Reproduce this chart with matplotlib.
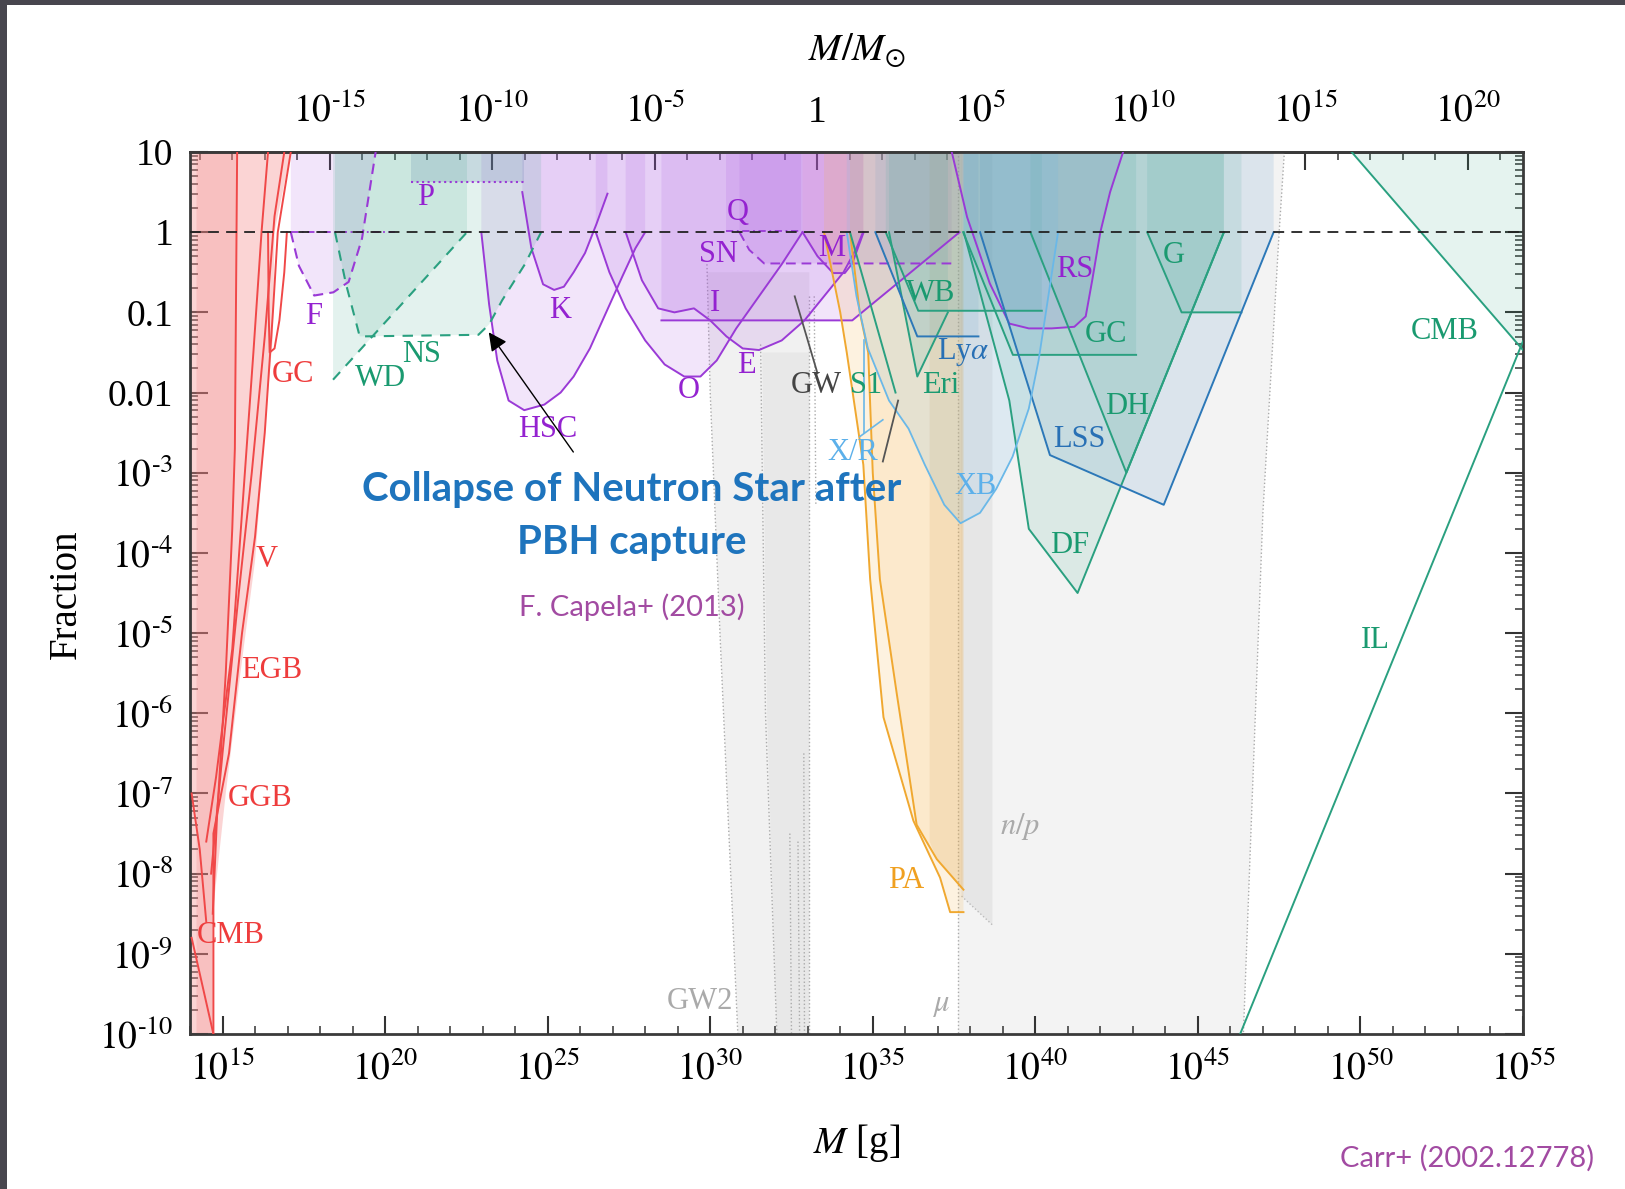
import numpy as np
import matplotlib.pyplot as plt
from matplotlib.patches import Rectangle
from matplotlib.ticker import FixedLocator, FixedFormatter, NullFormatter

plt.rcParams['font.family'] = ['Liberation Serif', 'DejaVu Serif']
plt.rcParams['mathtext.fontset'] = 'stix'

MSUN = 1.989e33

# all values are log10(M / g) and log10(fraction)
# --- evaporation (red) ---
evap_m = [14.0, 14.7, 14.7, 15.1, 15.55, 16.0, 16.4, 16.55, 16.6, 17.1]
evap_f = [-10, -10, -8.5, -7.0, -5.5, -4.1, -2.0, -1.3, 0.0, 1.0]
evap_band_m = [14.2, 15.45, 15.38, 15.3, 15.1, 14.83, 14.7, 14.7, 14.2]
evap_band_f = [1.0, 1.0, -2.7, -3.7, -5.5, -7.3, -8.5, -10, -10]
red_lines = {
    'V': ([14.72, 14.72, 15.2, 15.6, 16.0, 16.3, 16.55, 16.7, 17.1],
          [-10, -7.5, -6.5, -5.0, -3.8, -2.5, -1.0, 0.0, 1.0]),
    'EGB': ([14.65, 15.0, 15.5, 15.9, 16.3, 16.6, 16.9],
            [-8.0, -6.5, -4.5, -3.0, -1.3, 0.2, 1.0]),
    'GGB': ([14.5, 14.8, 15.3, 15.6, 15.95, 16.2, 16.4],
            [-7.6, -6.8, -5.2, -3.5, -1.5, 0.0, 1.0]),
    'CMB': ([14.05, 14.72], [-8.8, -10]),
    'CMB2': ([14.05, 14.3, 14.5], [-7.0, -7.7, -8.6]),
    'X': ([15.45, 15.38, 15.3, 15.1, 14.83, 14.7], [1.0, -2.7, -3.7, -5.5, -7.3, -8.5]),
    'GC': ([16.4, 16.42, 16.45, 16.6, 16.75, 16.9, 16.98], [0, -1.0, -1.5, -1.45, -1.1, -0.5, 0]),
}
red_labels = {'GC': (17.18, -1.78), 'V': (16.36, -4.08), 'EGB': (16.52, -5.47),
              'GGB': (16.17, -7.06), 'CMB': (15.24, -8.77)}

# --- lensing (purple) ---
F_m = [17.1, 17.35, 17.82, 18.41, 18.88, 19.29, 19.71]
F_f = [0.0, -0.42, -0.79, -0.75, -0.62, -0.08, 1.0]
P_m = [20.8, 24.28]
P_f = [0.63, 0.63]
HSC_m = [22.96, 23.2, 23.45, 23.8, 24.28, 24.9, 25.4, 25.8, 26.3, 26.8, 27.3, 27.7, 28.0]
HSC_f = [0.0, -0.9, -1.6, -2.1, -2.22, -2.15, -2.0, -1.8, -1.45, -1.0, -0.55, -0.2, 0.0]
K_m = [24.22, 24.5, 24.86, 25.2, 25.5, 25.8, 26.15, 26.5, 26.84]
K_f = [0.5, -0.2, -0.65, -0.72, -0.68, -0.5, -0.26, 0.1, 0.48]
O_m = [26.48, 26.9, 27.4, 28.0, 28.6, 29.2, 29.7, 30.2, 30.8, 31.5, 32.2, 32.84]
O_f = [0.0, -0.5, -0.95, -1.35, -1.65, -1.8, -1.8, -1.6, -1.2, -0.8, -0.4, 0.0]
E_m = [27.4, 27.9, 28.4, 28.9, 29.5, 30.0, 30.5, 31.0, 31.5, 32.2, 32.9, 33.5, 34.1, 34.5, 34.7]
E_f = [0.0, -0.6, -0.95, -1.0, -0.95, -1.1, -1.3, -1.45, -1.47, -1.35, -1.1, -0.8, -0.5, -0.2, 0.0]
I_m = [28.5, 34.37, 37.67]
I_f = [-1.1, -1.1, 0.0]
M_m = [32.84, 33.3, 33.78, 34.14, 34.37, 34.72]
M_f = [0.0, -0.3, -0.51, -0.51, -0.39, 0.0]
SN_m = [30.9, 31.2, 31.66, 37.43]
SN_f = [0.0, -0.22, -0.39, -0.39]
Q_m = [30.5, 32.8]
Q_f = [0.02, 0.02]
RS_m = [37.43, 37.9, 38.6, 39.2, 39.8, 40.5, 41.2, 41.55, 41.75, 42.0, 42.3, 42.7]
RS_f = [1.0, 0.19, -0.64, -1.14, -1.2, -1.2, -1.18, -1.05, -0.6, 0.0, 0.5, 1.0]
purple_labels = {'F': (17.79, -1.05), 'P': (21.23, 0.43), 'K': (25.37, -0.98),
                 'HSC': (24.99, -2.46), 'Q': (30.85, 0.25), 'SN': (30.24, -0.28),
                 'I': (30.15, -0.89), 'O': (29.35, -1.98), 'E': (31.1, -1.66),
                 'M': (33.75, -0.2), 'RS': (41.2, -0.46)}

# --- dynamical (green) ---
WD_m = [18.4, 22.52]
WD_f = [-1.84, 0.0]
NS_m = [18.46, 18.8, 19.22, 22.87, 23.2, 23.6, 24.3, 24.8]
NS_f = [0.0, -0.65, -1.3, -1.28, -1.15, -0.85, -0.4, 0.0]
WB_m = [35.4, 36.4, 40.2]
WB_f = [0.0, -0.98, -0.98]
S1_m = [34.3, 35.7]
S1_f = [0.0, -2.0]
Eri_m = [35.5, 36.37, 37.31]
Eri_f = [0.0, -1.8, -1.0]
GCg_m = [37.78, 39.31, 43.1]
GCg_f = [0.0, -1.53, -1.53]
G_m = [43.44, 44.5, 46.34]
G_f = [0.0, -1.0, -1.0]
DH_m = [39.85, 42.8, 45.8]
DH_f = [0.0, -3.0, 0.0]
DF_m = [37.8, 39.2, 39.8, 41.3, 45.8]
DF_f = [0.0, -2.1, -3.7, -4.5, 0.0]
CMBg_m = [49.73, 55.0]
CMBg_f = [1.0, -1.47]
IL_m = [46.3, 55.0]
IL_f = [-10.0, -1.36]
green_labels = {'WD': (19.86, -1.82), 'NS': (21.13, -1.52), 'WB': (36.77, -0.76),
                'S1': (34.8, -1.91), 'Eri': (37.09, -1.91), 'GC': (42.18, -1.27),
                'G': (44.25, -0.29), 'DH': (42.82, -2.17), 'DF': (41.07, -3.91),
                'CMB': (52.6, -1.24), 'IL': (50.46, -5.09)}

# --- accretion (blue) ---
Lya_m = [35.08, 36.37, 38.25]
Lya_f = [0.0, -1.3, -1.3]
LSS_m = [38.3, 40.45, 43.95, 47.33]
LSS_f = [0.0, -2.78, -3.4, 0.0]
XB_m = [34.2, 34.5, 34.85, 35.5, 36.1, 36.6, 37.2, 37.7, 38.3, 38.8, 39.3, 39.8, 40.1, 40.4, 40.7]
XB_f = [0.0, -0.8, -1.45, -2.1, -2.45, -2.9, -3.4, -3.63, -3.5, -3.2, -2.8, -2.2, -1.6, -0.8, 0.0]
XR_lines = [([34.72, 34.72], [-1.34, -2.5]), ([34.6, 35.31], [-2.55, -2.34])]
blue_labels = {'Ly$\\alpha$': (37.79, -1.49), 'LSS': (41.36, -2.59)}
lblue_labels = {'X/R': (34.38, -2.75), 'XB': (38.17, -3.17)}

# --- Planck accretion (orange) ---
PA_out_m = [33.5, 34.0, 34.2, 34.71, 34.92, 35.33, 36.25, 37.07, 37.38, 37.79]
PA_out_f = [0.0, -1.0, -1.5, -2.9, -4.33, -6.05, -7.34, -8.05, -8.48, -8.48]
PA_in_m = [34.3, 34.6, 34.86, 35.0, 35.22, 35.74, 36.35, 36.97, 37.79]
PA_in_f = [0.0, -1.0, -1.5, -3.0, -4.33, -5.76, -7.39, -7.82, -8.2]

# --- GW and CMB distortion (grey) ---
GW_lines = [([32.6, 33.3], [-0.8, -1.76]), ([35.78, 35.31], [-2.1, -2.86])]
GW2_m = [29.9, 30.0, 30.3, 30.85, 33.05, 33.05]
GW2_f = [-0.5, -2.0, -5.0, -10, -10, -0.5]
GW2b_m = [31.6, 31.75, 32.05, 33.05, 33.05]
GW2b_f = [-1.5, -6.0, -10, -10, -1.5]
GW2_dots = [([29.9, 30.0, 30.3, 30.85], [-0.4, -2.0, -5.0, -10]),
            ([31.55, 31.7, 32.05], [-1.4, -6.0, -10]),
            ([32.45, 32.5], [-7.5, -10]), ([32.7, 32.75], [-7.6, -10]),
            ([32.88, 32.9], [-6.5, -10]), ([33.05, 33.05], [-0.8, -10]),
            ([33.2, 33.25], [-0.8, -3.4])]
mu_m = [37.63, 37.63, 47.66, 47.5, 47.0, 46.4]
mu_f = [-10, 1.0, 1.0, 0.0, -3.5, -10]
np_m = [37.73, 37.73, 38.68, 38.68]
np_f = [1.0, -8.28, -8.64, 1.0]

RED, PURP, GREEN, BLUE, LBLUE, ORANGE = '#f04848', '#9a3ad6', '#2aa080', '#2c78b8', '#6ab8e8', '#f0a830'


def L(v):
    return 10.0 ** np.asarray(v, float)


def fill_above(ax, m, f, color, alpha, z=2):
    mm = list(m) + [m[-1], m[0]]
    ff = list(f) + [1.0, 1.0]
    ax.fill(L(mm), L(ff), color=color, alpha=alpha, lw=0, zorder=z)


def pow_label(k):
    if k < 0:
        return r'$10^{\text{-}%d}$' % (-k)
    return r'$10^{%d}$' % k


fig = plt.figure(figsize=(16.25, 11.89), dpi=100)
fig.patches.append(Rectangle((0, 0), 7 / 1625, 1, transform=fig.transFigure,
                             facecolor='#48464e', edgecolor='none'))
fig.patches.append(Rectangle((0, 1 - 5 / 1189), 1, 5 / 1189, transform=fig.transFigure,
                             facecolor='#48464e', edgecolor='none'))
ax = fig.add_axes([190 / 1625, 1 - 1034 / 1189, 1333 / 1625, 882 / 1189])
ax.set_xscale('log')
ax.set_yscale('log')
ax.set_xlim(1e14, 1e55)
ax.set_ylim(1e-10, 10)

# grey backgrounds
ax.fill(L(mu_m), L(mu_f), color='#f3f3f3', lw=0, zorder=1)
ax.fill(L(np_m), L(np_f), color='#e6e6e6', lw=0, zorder=1)
ax.fill(L(GW2_m), L(GW2_f), color='#f1f1f1', lw=0, zorder=1)
ax.fill(L(GW2b_m), L(GW2b_f), color='#e8e8e8', lw=0, zorder=1)
for m, f in GW2_dots:
    ax.plot(L(m), L(f), color='#aaaaaa', lw=1, ls=':', zorder=1.5)
ax.plot(L([37.63, 37.63]), L([1, -10]), color='#aaaaaa', lw=1, ls=':', zorder=1.5)
ax.plot(L(mu_m[2:]), L(mu_f[2:]), color='#aaaaaa', lw=1, ls=':', zorder=1.5)
ax.plot(L([37.73, 38.68]), L([-8.28, -8.64]), color='#bbbbbb', lw=1, ls=':', zorder=1.5)

# red evaporation
ax.fill(L(evap_m + [14.0]), L(evap_f + [1.0]), color='#f59090', alpha=0.38, lw=0, zorder=2)
ax.fill(L(evap_band_m), L(evap_band_f), color='#f07070', alpha=0.2, lw=0, zorder=2)
for m, f in red_lines.values():
    ax.plot(L(m), L(f), color=RED, lw=1.4, zorder=3)

# purple lensing
for m, f in [(F_m, F_f), (HSC_m, HSC_f), (K_m, K_f), (O_m, O_f), (E_m, E_f),
             (I_m, I_f), (SN_m, SN_f), (Q_m, Q_f), (RS_m, RS_f)]:
    fill_above(ax, m, f, '#a855e0', 0.15)
fill_above(ax, P_m, P_f, '#7080b8', 0.22)
fill_above(ax, M_m, M_f, '#d060c0', 0.2)
ax.plot(L(F_m), L(F_f), color=PURP, lw=1.5, ls=(0, (5, 3)), zorder=3)
ax.plot(L([17.1, 20.3]), L([0.0, 0.0]), color=PURP, lw=1.3, ls=(0, (4, 2, 1, 2)), zorder=3)
ax.plot(L(P_m), L(P_f), color=PURP, lw=1.5, ls=':', zorder=3)
ax.plot(L(Q_m), L(Q_f), color=PURP, lw=1.3, ls=(0, (4, 2, 1, 2)), zorder=3)
ax.plot(L(SN_m), L(SN_f), color=PURP, lw=1.4, ls=(0, (5, 3)), zorder=3)
for m, f in [(HSC_m, HSC_f), (K_m, K_f), (O_m, O_f), (E_m, E_f), (I_m, I_f),
             (M_m, M_f), (RS_m, RS_f)]:
    ax.plot(L(m), L(f), color=PURP, lw=1.4, zorder=3)

# orange PA
fill_above(ax, PA_out_m, PA_out_f, '#f5b040', 0.16)
fill_above(ax, PA_in_m, PA_in_f, '#f5b040', 0.12)
ax.fill(L([36.75, 37.75, 37.75, 36.97, 36.75]), L([1, 1, -8.2, -7.82, -7.6]),
        color='#d8a860', alpha=0.18, lw=0, zorder=2)
ax.plot(L(PA_out_m), L(PA_out_f), color=ORANGE, lw=1.4, zorder=3)
ax.plot(L(PA_in_m), L(PA_in_f), color=ORANGE, lw=1.4, zorder=3)

# green dynamical
fill_above(ax, WD_m, WD_f, '#3aa888', 0.14)
fill_above(ax, NS_m, NS_f, '#3aa888', 0.14)
for m, f in [(WB_m, WB_f), (Eri_m, Eri_f), (GCg_m, GCg_f), (G_m, G_f), (DH_m, DH_f),
             (DF_m, DF_f), (CMBg_m, CMBg_f)]:
    fill_above(ax, m, f, '#3aa888', 0.13)
ax.plot(L(WD_m), L(WD_f), color=GREEN, lw=1.5, ls=(0, (5, 4)), zorder=3)
ax.plot(L(NS_m), L(NS_f), color=GREEN, lw=1.5, ls=(0, (5, 4)), zorder=3)
for m, f in [(WB_m, WB_f), (S1_m, S1_f), (Eri_m, Eri_f), (GCg_m, GCg_f), (G_m, G_f),
             (DH_m, DH_f), (DF_m, DF_f), (CMBg_m, CMBg_f), (IL_m, IL_f)]:
    ax.plot(L(m), L(f), color=GREEN, lw=1.4, zorder=3)

# blue accretion
fill_above(ax, Lya_m, Lya_f, '#3c80c0', 0.1)
fill_above(ax, LSS_m, LSS_f, '#3c80c0', 0.13)
fill_above(ax, XB_m, XB_f, '#70b8e8', 0.16)
ax.plot(L(Lya_m), L(Lya_f), color=BLUE, lw=1.4, zorder=3)
ax.plot(L(LSS_m), L(LSS_f), color=BLUE, lw=1.4, zorder=3)
ax.plot(L(XB_m), L(XB_f), color=LBLUE, lw=1.3, zorder=3)
for m, f in XR_lines:
    ax.plot(L(m), L(f), color=LBLUE, lw=1.2, zorder=3)
for m, f in GW_lines:
    ax.plot(L(m), L(f), color='#555555', lw=1.3, zorder=3)

ax.axhline(1.0, color='#222222', lw=1.3, ls=(0, (6, 4)), zorder=4)

# labels
fs = 22
for lab_set, col in [(red_labels, '#ee3c3c'), (purple_labels, '#9422d0'),
                     (green_labels, '#1a9a70'), (blue_labels, '#2870b5'),
                     (lblue_labels, '#5cb0ea')]:
    for t, (m, f) in lab_set.items():
        ax.text(10 ** m, 10 ** f, t, color=col, fontsize=fs, ha='center', va='center', zorder=5)
ax.text(10 ** 33.27, 10 ** -1.91, 'GW', color='#444444', fontsize=fs, ha='center', va='center', zorder=5)
ax.text(10 ** 29.67, 10 ** -9.59, 'GW2', color='#aaaaaa', fontsize=fs, ha='center', va='center', zorder=5)
ax.text(10 ** 39.54, 10 ** -7.41, '$n/p$', color='#aaaaaa', fontsize=fs, ha='center', va='center', zorder=5)
ax.text(10 ** 37.09, 10 ** -9.63, r'$\mu$', color='#aaaaaa', fontsize=fs, ha='center', va='center', zorder=5)
ax.text(10 ** 36.04, 10 ** -8.08, 'PA', color='#f0a020', fontsize=fs, ha='center', va='center', zorder=5)

ax.annotate('', xy=(10 ** 23.14, 10 ** -1.22), xytext=(10 ** 25.84, 10 ** -2.77),
            arrowprops=dict(arrowstyle='-|>', color='black', lw=1.0, mutation_scale=28),
            zorder=6)

# ticks
xmaj = np.arange(15, 56, 5)
ax.xaxis.set_major_locator(FixedLocator(10.0 ** xmaj))
ax.xaxis.set_major_formatter(FixedFormatter([pow_label(k) for k in xmaj]))
ax.xaxis.set_minor_locator(FixedLocator(10.0 ** np.arange(14, 56)))
ax.xaxis.set_minor_formatter(NullFormatter())
ymaj = np.arange(-10, 2)
ylab = [pow_label(k) for k in range(-10, -2)] + ['0.01', '0.1', '1', '10']
ax.yaxis.set_major_locator(FixedLocator(10.0 ** ymaj))
ax.yaxis.set_major_formatter(FixedFormatter(ylab))
ax.yaxis.set_minor_locator(FixedLocator([k * 10.0 ** e for e in range(-10, 1) for k in range(2, 10)]))
ax.yaxis.set_minor_formatter(NullFormatter())
ax.tick_params(which='major', direction='in', length=13, width=1.5, color='#333333',
               labelsize=27, right=True, top=False, pad=12)
ax.tick_params(which='minor', direction='in', length=6, width=1.1, color='#333333',
               right=True, top=False)
for s in ax.spines.values():
    s.set_linewidth(2)
    s.set_color('#3a3a3a')

sec = ax.secondary_xaxis('top', functions=(lambda x: x / MSUN, lambda x: x * MSUN))
smaj = np.arange(-15, 21, 5)
sec.xaxis.set_major_locator(FixedLocator(10.0 ** smaj))
sec.xaxis.set_major_formatter(FixedFormatter(['1' if k == 0 else pow_label(k) for k in smaj]))
sec.xaxis.set_minor_locator(FixedLocator(10.0 ** np.arange(-19, 22)))
sec.xaxis.set_minor_formatter(NullFormatter())
sec.tick_params(which='major', direction='in', length=13, width=1.5, color='#333333',
                labelsize=27, pad=16)
sec.tick_params(which='minor', direction='in', length=6, width=1.1, color='#333333')
sec.spines['top'].set_linewidth(2)
sec.spines['top'].set_color('#3a3a3a')

fig.text(0.527, 0.958, r'$M/M_{\odot}$', fontsize=28, ha='center', va='center')
fig.text(0.527, 0.039, r'$M$ [g]', fontsize=28, ha='center', va='center')
fig.text(0.041, 0.5, 'Fraction', fontsize=28, ha='center', va='center', rotation=90)

fig.text(0.389, 0.588, 'Collapse of Neutron Star after', fontsize=29, fontweight='bold',
         family=['Lato', 'DejaVu Sans'], color='#1e74bd', ha='center', va='center')
fig.text(0.389, 0.544, 'PBH capture', fontsize=29, fontweight='bold',
         family=['Lato', 'DejaVu Sans'], color='#1e74bd', ha='center', va='center')
fig.text(0.389, 0.489, 'F. Capela+ (2013)', fontsize=21, family=['Lato', 'DejaVu Sans'],
         color='#a24ba2', ha='center', va='center')
fig.text(0.903, 0.026, 'Carr+ (2002.12778)', fontsize=21, family=['Lato', 'DejaVu Sans'],
         color='#a24ba2', ha='center', va='center')

fig.savefig('out.png', dpi=100)
